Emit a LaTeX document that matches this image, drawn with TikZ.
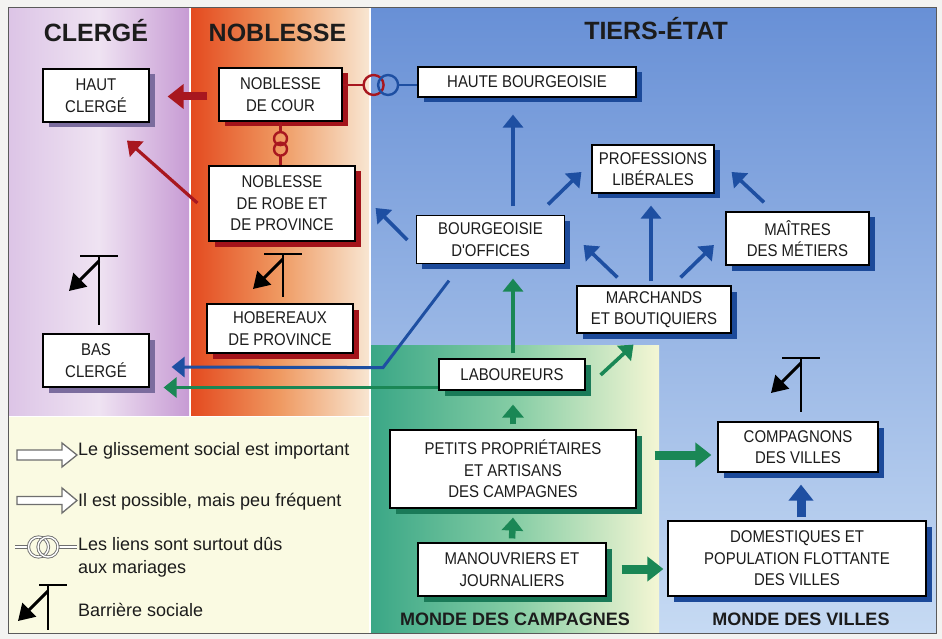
\documentclass[tikz,border=0pt]{standalone}
\usepackage{fontspec}
\setmainfont{Liberation Sans}
\newfontfamily\boxfont{Liberation Sans}[FakeStretch=0.88]
\usetikzlibrary{arrows.meta,shadows,calc}
\definecolor{txt}{HTML}{1C1C1C}
\definecolor{redA}{HTML}{A8171F}
\definecolor{blueA}{HTML}{1E4FA2}
\definecolor{greenA}{HTML}{1A8755}
\definecolor{shPurple}{HTML}{7B6C9E}
\definecolor{shRed}{HTML}{A3131A}
\definecolor{shBlue}{HTML}{1C4A9A}
\definecolor{shGreen}{HTML}{1A7A58}
\definecolor{legGray}{HTML}{6E6E6E}
\definecolor{clA}{HTML}{DCC4E6}
\definecolor{clB}{HTML}{EFE3F2}
\definecolor{clC}{HTML}{C79BD4}
\definecolor{noA}{HTML}{E44A1F}
\definecolor{noB}{HTML}{EF9A62}
\definecolor{noC}{HTML}{F8E6D2}
\definecolor{tiA}{HTML}{6890D6}
\definecolor{tiB}{HTML}{C6DAF3}
\definecolor{caA}{HTML}{3AA786}
\definecolor{caB}{HTML}{86CDA5}
\definecolor{caC}{HTML}{F4F6D4}
\definecolor{legBg}{HTML}{FAFAE2}
\definecolor{outerBg}{HTML}{F3F3F1}
\definecolor{frameC}{HTML}{5A5A5A}
\tikzset{
  box/.style={draw=black, line width=1.2pt, fill=white, align=center, inner sep=0pt, text=txt,
     font=\boxfont\fontsize{17}{21.5}\selectfont,
     general shadow={fill=#1, shadow xshift=5.5pt, shadow yshift=-5.5pt}},
  head/.style={font=\bfseries\fontsize{25}{25}\selectfont, text=txt, anchor=base, inner sep=0pt},
  subhead/.style={font=\bfseries\fontsize{18}{18}\selectfont, text=txt, anchor=base, inner sep=0pt},
  legtext/.style={font=\fontsize{18}{23}\selectfont, text=txt, anchor=base west, align=left, inner sep=0pt},
  thinarr/.style={draw=#1, line width=3.6pt, -{Triangle[width=20pt,length=13pt]}},
  thickarr/.style={draw=#1, line width=9pt, -{Triangle[width=24pt,length=16pt]}},
  smallarr/.style={draw=#1, line width=6.5pt, -{Triangle[width=21pt,length=13pt]}},
  ringline/.style={draw=#1, line width=2.4pt},
  legout/.style={draw=legGray, line width=1.3pt, fill=white},
  legring/.style={draw=legGray, double=white, double distance=1.4pt, line width=0.9pt},
  barline/.style={draw=black, line width=2.6pt},
  barhead/.style={draw=black, line width=3pt, -{Triangle[width=19pt,length=16pt]}},
  pics/barrier/.style={code={
     \draw[barline] (-19,0) -- (19,0) (0,0) -- (0,#1);
     \draw[barhead] (0,5) -- (-30,35);
  }},
}
\begin{document}
\begin{tikzpicture}[x=1pt,y=-1pt]
\useasboundingbox (0,0) rectangle (942,639);
\fill[outerBg] (0,0) rectangle (942,639);
\fill[white] (8,8) rectangle (936,633);
% regions
\shade[left color=clA, right color=clC, middle color=clB] (8,8) rectangle (189,415);
\shade[left color=noA, right color=noC, middle color=noB] (191,8) rectangle (369,415);
\shade[top color=tiA, bottom color=tiB] (371,8) rectangle (936,633);
\shade[left color=caA, right color=caC, middle color=caB] (371,345) rectangle (659,633);
\fill[legBg] (8,417) rectangle (369,633);
\draw[frameC, line width=1pt] (8,8) rectangle (936,633);

% headers
\node[head] (tClerge) at (96,42) {CLERGÉ};
\node[head] (tNoblesse) at (277.5,42) {NOBLESSE};
\node[head] (tTiers) at (656,40) {TIERS-ÉTAT};
\node[subhead] (tCamp) at (515,625) {MONDE DES CAMPAGNES};
\node[subhead] (tVilles) at (801,625) {MONDE DES VILLES};

% boxes
\node[box=shPurple, minimum width=106pt, minimum height=53pt] (hautclerge) at (96,95.5) {HAUT\\CLERGÉ};
\node[box=shPurple, minimum width=106pt, minimum height=53pt] (basclerge) at (96,360.5) {BAS\\CLERGÉ};
\node[box=shRed, minimum width=123pt, minimum height=53pt] (cour) at (280.5,94.5) {NOBLESSE\\DE COUR};
\node[box=shRed, minimum width=146pt, minimum height=75pt] (robe) at (282,203.5) {NOBLESSE\\DE ROBE ET\\DE PROVINCE};
\node[box=shRed, minimum width=146pt, minimum height=49pt] (hobereaux) at (280,328.5) {HOBEREAUX\\DE PROVINCE};
\node[box=shBlue, minimum width=218pt, minimum height=30pt] (hauteb) at (527,82) {HAUTE BOURGEOISIE};
\node[box=shBlue, minimum width=122pt, minimum height=48pt] (prof) at (653,169) {PROFESSIONS\\LIBÉRALES};
\node[box=shBlue, minimum width=148pt, minimum height=48pt] (offices) at (490.5,239.5) {BOURGEOISIE\\D'OFFICES};
\node[box=shBlue, minimum width=143pt, minimum height=53pt] (maitres) at (797.5,238.5) {MAÎTRES\\DES MÉTIERS};
\node[box=shBlue, minimum width=154pt, minimum height=47pt] (marchands) at (654,309.5) {MARCHANDS\\ET BOUTIQUIERS};
\node[box=shGreen, minimum width=146pt, minimum height=31pt] (labou) at (512,374.5) {LABOUREURS};
\node[box=shGreen, minimum width=246pt, minimum height=78pt] (petits) at (513,469) {PETITS PROPRIÉTAIRES\\ET ARTISANS\\DES CAMPAGNES};
\node[box=shGreen, minimum width=188pt, minimum height=53pt] (manouv) at (512,569.5) {MANOUVRIERS ET\\JOURNALIERS};
\node[box=shBlue, minimum width=160pt, minimum height=50pt] (compag) at (798,447) {COMPAGNONS\\DES VILLES};
\node[box=shBlue, minimum width=258pt, minimum height=75pt] (domest) at (797,558.5) {DOMESTIQUES ET\\POPULATION FLOTTANTE\\DES VILLES};

% red connectors
\draw[thickarr=redA, line width=8pt] ($(cour.west)+(-11,2)$) -- ($(hautclerge.east)+(18,1)$);
\draw[thinarr=redA, line width=3.2pt] ($(robe.west)+(-11,-0.5)$) -- ($(hautclerge.south)+(31,18)$);
% marriage rings cour - robe
\coordinate (rv1) at ($(cour.south)+(0,17)$);
\coordinate (rv2) at ($(cour.south)+(0,27.5)$);
\draw[ringline=redA] (cour.south) -- ($(rv1)+(0,-6.5)$);
\draw[ringline=redA] ($(rv2)+(0,6.5)$) -- (cour.south |- robe.north);
\draw[ringline=redA] (rv1) circle[radius=6.5pt] (rv2) circle[radius=6.5pt];
% marriage rings cour - haute bourgeoisie
\coordinate (rh0) at ($(cour.east)+(0,-9.5)$);
\coordinate (rh1) at ($(rh0)+(31,0)$);
\coordinate (rh2) at ($(rh0)+(45.5,0)$);
\draw[ringline=redA] (rh0) -- ($(rh1)+(-10,0)$);
\draw[ringline=redA] (rh1) circle[radius=10pt];
\draw[ringline=blueA] (rh2) circle[radius=10pt];
\draw[ringline=blueA] ($(rh2)+(10,0)$) -- (rh0 -| hauteb.west);

% blue connectors
\draw[thinarr=blueA] ($(offices.north)+(22.5,-8.5)$) -- ($(hauteb.south)+(-14,17)$);
\draw[thinarr=blueA] ($(offices.north east)+(-17,-10.5)$) -- ($(prof.west)+(-10,3)$);
\draw[thinarr=blueA] ($(marchands.north)+(-3,-4)$) -- ($(prof.south)+(-2,12)$);
\draw[thinarr=blueA] ($(marchands.north west)+(41,-8)$) -- ($(offices.east)+(18.5,5.5)$);
\draw[thinarr=blueA] ($(marchands.north east)+(-51,-8)$) -- ($(maitres.west)+(-11.5,6.5)$);
\draw[thinarr=blueA] ($(maitres.north west)+(38.6,-9)$) -- ($(prof.east)+(17,3)$);
\draw[thinarr=blueA] ($(offices.west)+(-8.5,0.5)$) -- ($(robe.east)+(20,4.5)$);
\draw[thinarr=blueA, line width=3pt] ($(offices.south)+(-41.5,16.5)$) -- ++(-66,87) -- ($(basclerge.east)+(22,6.5)$);
\draw[thickarr=blueA] ($(domest.north)+(4,-3)$) -- ($(compag.south)+(3,12)$);

% green connectors
\draw[thinarr=greenA] ($(labou.north)+(1,-5)$) -- ($(offices.south)+(22.5,14.5)$);
\draw[thinarr=greenA] ($(labou.east)+(15,0.5)$) -- ($(marchands.south)+(-20.5,11)$);
\draw[thinarr=greenA, line width=3pt] ($(labou.west)+(0,13)$) -- ($(basclerge.east)+(14,27)$);
\draw[smallarr=greenA] ($(petits.north)+(0,-5)$) -- ($(labou.south)+(1,14)$);
\draw[smallarr=greenA] ($(manouv.north)+(0,-4)$) -- ($(petits.south)+(0,9)$);
\draw[thickarr=greenA] ($(petits.east)+(18,-14)$) -- ($(compag.west)+(-6,8)$);
\draw[thickarr=greenA] ($(manouv.east)+(15,-0.5)$) -- ($(domest.west)+(-4,10.5)$);

% social barriers
\pic at (99,256) {barrier=69};
\pic at (283,254) {barrier=43};
\pic at (801,358) {barrier=54};

% legend
\draw[legout] (17,450) -- (62,450) -- (62,443) -- (77,455) -- (62,467) -- (62,460) -- (17,460) -- cycle;
\node[legtext] (l1) at (78,455) {Le glissement social est important};
\draw[legout] (17,496.5) -- (62,496.5) -- (62,488) -- (77,500.5) -- (62,513) -- (62,504.5) -- (17,504.5) -- cycle;
\node[legtext] (l2) at (78,506) {Il est possible, mais peu fréquent};
\draw[legring] (15,547) -- (28,547);
\draw[legring] (59,547) -- (77,547);
\draw[legring] (38.5,547) circle[radius=10pt];
\draw[legring] (48,547) circle[radius=10pt];
\node[legtext, anchor=north west] (l3) at (78,537) {Les liens sont surtout dûs\\aux mariages};
\draw[barline] (39,585) -- (67,585) (48,585) -- (48,630);
\draw[barhead] (48,591) -- (18,621);
\node[legtext] (l4) at (78,616) {Barrière sociale};
\end{tikzpicture}
\end{document}
